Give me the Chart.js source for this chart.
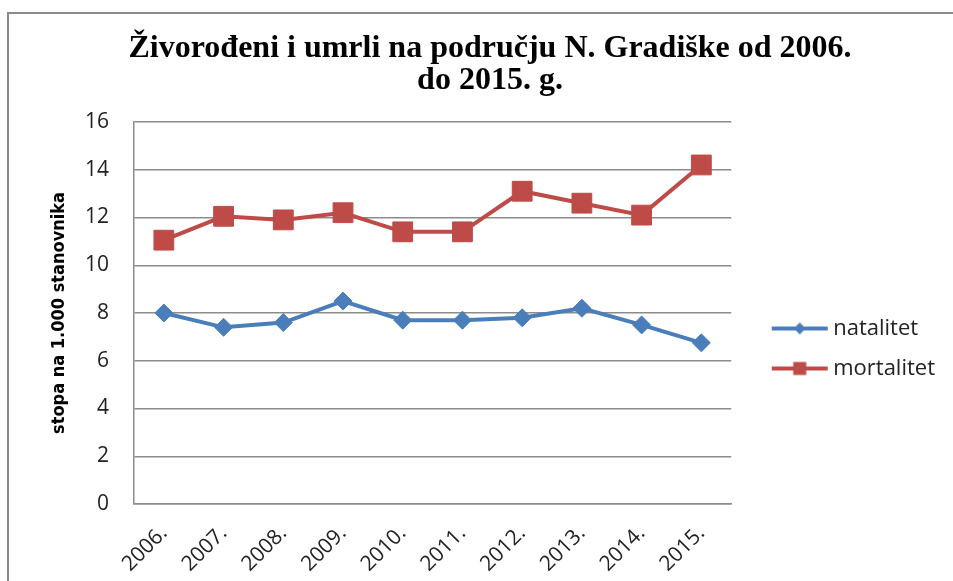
<!DOCTYPE html>
<html>
<head>
<meta charset="utf-8">
<title>Živorođeni i umrli</title>
<script src="https://cdn.jsdelivr.net/npm/chart.js@4"></script>
<style>
  html, body { margin: 0; padding: 0; background: #fff; overflow: hidden; }
  #wrap { position: relative; width: 953px; height: 581px; }
  #frame {
    position: absolute; left: 7px; top: 12px; width: 1000px; height: 1000px;
    border-left: 2px solid #8a8a8a; border-top: 2px solid #8a8a8a;
  }
  #chart { position: absolute; left: 0; top: 0; }
</style>
</head>
<body>
<div id="wrap">
  <div id="frame"></div>
  <canvas id="chart" width="953" height="581"></canvas>
</div>
<script>
// podaci
const godine = ['2006.', '2007.', '2008.', '2009.', '2010.', '2011.', '2012.', '2013.', '2014.', '2015.'];
const natalitet = [8.0, 7.4, 7.6, 8.5, 7.7, 7.7, 7.8, 8.2, 7.5, 6.75];
const mortalitet = [11.05, 12.05, 11.9, 12.2, 11.4, 11.4, 13.1, 12.6, 12.1, 14.2];
const yTicks = [0, 2, 4, 6, 8, 10, 12, 14, 16];

const plava = '#4a7ebb';
const crvena = '#be4b48';

// slika za legendu: linija s markerom u sredini (lijevo prazan prostor)
function legendIcon(color, shape) {
  const c = document.createElement('canvas');
  c.width = 100;
  c.height = 18;
  const ctx = c.getContext('2d');
  ctx.strokeStyle = color;
  ctx.fillStyle = color;
  ctx.lineWidth = 4;
  ctx.beginPath();
  ctx.moveTo(36, 9);
  ctx.lineTo(92, 9);
  ctx.stroke();
  ctx.beginPath();
  if (shape === 'diamond') {
    ctx.moveTo(64, 3); ctx.lineTo(70, 9); ctx.lineTo(64, 15); ctx.lineTo(58, 9);
  } else {
    ctx.rect(57.5, 2.5, 13, 13);
  }
  ctx.closePath();
  ctx.fill();
  return c;
}

document.addEventListener('DOMContentLoaded', function() {
  const ikone = [legendIcon(plava, 'diamond'), legendIcon(crvena, 'square')];

  new Chart(document.getElementById('chart'), {
    type: 'line',
    data: {
      labels: godine,
      datasets: [
        {
          label: 'natalitet',
          data: natalitet,
          borderColor: plava,
          backgroundColor: plava,
          borderWidth: 4,
          pointStyle: 'rectRot',
          pointRadius: 9,
          pointBorderWidth: 1,
          tension: 0
        },
        {
          label: 'mortalitet',
          data: mortalitet,
          borderColor: crvena,
          backgroundColor: crvena,
          borderWidth: 4,
          pointStyle: 'rect',
          pointRadius: 14,
          pointBorderWidth: 1,
          tension: 0
        }
      ]
    },
    options: {
      responsive: false,
      animation: false,
      layout: {
        padding: { left: 35, right: 8, top: 0, bottom: 0 }
      },
      scales: {
        x: {
          offset: true,
          afterFit: function(axis) {
            axis.height = 77;
          },
          grid: { display: false, drawTicks: false },
          border: { color: '#8c8c8c', width: 1.5 },
          ticks: {
            color: '#222',
            font: { family: 'Open Sans', size: 21 },
            maxRotation: 45,
            minRotation: 45,
            padding: 17
          }
        },
        y: {
          min: 0,
          max: 16,
          afterBuildTicks: function(axis) {
            axis.ticks = yTicks.map(v => ({ value: v }));
          },
          afterFit: function(axis) {
            axis.width = 99;
          },
          grid: { color: '#8c8c8c', lineWidth: 1.5, drawTicks: false },
          border: { color: '#8c8c8c', width: 1.5 },
          ticks: {
            color: '#222',
            font: { family: 'Open Sans', size: 21 },
            padding: 25
          },
          title: {
            display: true,
            text: 'stopa na 1.000 stanovnika',
            color: '#000',
            font: { family: "'DejaVu Sans Condensed', 'Liberation Sans'", size: 18, weight: 'bold' },
            padding: { top: 14, bottom: 6 }
          }
        }
      },
      plugins: {
        title: {
          display: true,
          text: ['Živorođeni i umrli na području N. Gradiške od 2006.', 'do 2015. g.'],
          color: '#000',
          font: { family: 'Liberation Serif', size: 32, weight: 'bold', lineHeight: 1.0 },
          padding: { top: 33, bottom: 25 }
        },
        legend: {
          position: 'right',
          title: {
            display: true,
            text: ' ',
            font: { size: 10 },
            padding: { top: 104, bottom: 0 }
          },
          labels: {
            color: '#222',
            font: { family: 'Open Sans', size: 22 },
            usePointStyle: true,
            pointStyleWidth: 73,
            padding: 18,
            generateLabels: function(chart) {
              return chart.data.datasets.map((ds, i) => ({
                text: ds.label,
                pointStyle: ikone[i],
                fillStyle: ds.borderColor,
                strokeStyle: ds.borderColor,
                lineWidth: 0,
                fontColor: '#222',
                datasetIndex: i
              }));
            }
          }
        },
        tooltip: { enabled: false }
      }
    }
  });
});
</script>
</body>
</html>
